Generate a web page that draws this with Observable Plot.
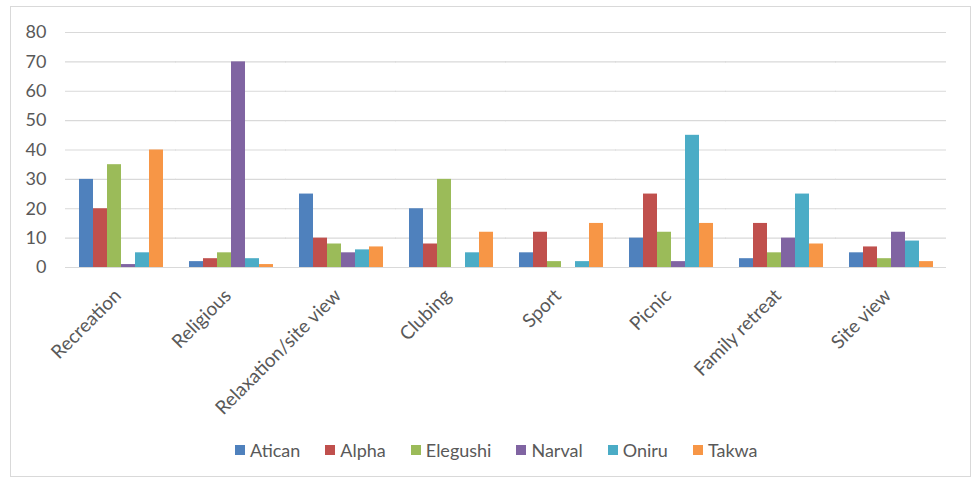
<!DOCTYPE html>
<html>
<head>
<meta charset="utf-8">
<script src="https://cdn.jsdelivr.net/npm/d3@7"></script>
<script src="https://cdn.jsdelivr.net/npm/@observablehq/plot@0.6"></script>
<style>
  body { margin: 0; background: #fff; font-family: Lato, "Open Sans", sans-serif; }
  #frame { position: absolute; left: 10px; top: 6px; width: 961px; height: 471px; border: 1px solid #d9d9d9; box-sizing: border-box; }
  #chart { position: absolute; left: 0; top: 0; }
  #legend { position: absolute; left: 235px; top: 438px; height: 24px; display: flex; align-items: center; gap: 25px; }
</style>
</head>
<body>
<div id="frame"></div>
<div id="chart"></div>
<div id="legend"></div>
<script>
// Purposes of visit
const categories = ["Recreation", "Religious", "Relaxation/site view", "Clubing", "Sport", "Picnic", "Family retreat", "Site view"];
// Sites
const series = ["Atican", "Alpha", "Elegushi", "Narval", "Oniru", "Takwa"];
const colors = ["#4F81BD", "#C0504D", "#9BBB59", "#8064A2", "#4BACC6", "#F79646"];
const yTicks = [0, 10, 20, 30, 40, 50, 60, 70, 80];

// Values per site, in category order
const atican   = [30, 2, 25, 20, 5, 10, 3, 5];
const alpha    = [20, 3, 10, 8, 12, 25, 15, 7];
const elegushi = [35, 5, 8, 30, 2, 12, 5, 3];
const narval   = [1, 70, 5, 0, 0, 2, 10, 12];
const oniru    = [5, 3, 6, 5, 2, 45, 25, 9];
const takwa    = [40, 1, 7, 12, 15, 15, 8, 2];

const values = [atican, alpha, elegushi, narval, oniru, takwa];
const data = [];
categories.forEach((c, i) => {
  series.forEach((s, j) => data.push({category: c, series: s, value: values[j][i]}));
});

const textColor = "#595959";
const gridColor = "#d9d9d9";

const chart = Plot.plot({
  width: 978,
  height: 420,
  marginTop: 32,
  marginBottom: 153,
  marginLeft: 64,
  marginRight: 31,
  style: {fontFamily: "Lato, 'Open Sans', sans-serif", background: "transparent"},
  fx: {domain: categories, paddingInner: 0.21, paddingOuter: 0.105, label: null},
  x: {domain: series, padding: 0, axis: null},
  y: {domain: [0, 80], label: null},
  color: {domain: series, range: colors},
  marks: [
    // gridlines stretched over the gaps between groups so they read as continuous
    Plot.ruleY(yTicks, {stroke: gridColor, strokeWidth: 1.2, insetLeft: -12, insetRight: -12}),
    Plot.barY(data, {fx: "category", x: "series", y: "value", fill: "series", inset: 0}),
    // the y axis sits on the first group's edge, so shift its labels past the outer gap
    Plot.axisY(yTicks, {tickSize: 0, tickPadding: 4, dx: -27, fontSize: 18, fill: textColor, label: null}),
    Plot.axisFx({anchor: "bottom", tickRotate: -45, tickSize: 0, tickPadding: 12, dx: -3, dy: 13, fontSize: 19, fill: textColor, label: null})
  ]
});
document.getElementById("chart").appendChild(chart);

// Legend row built from the same series and colours
const legend = d3.select("#legend");
series.forEach((s, j) => {
  const item = legend.append("div")
    .style("display", "flex").style("align-items", "center")
    .style("font-size", "18px").style("color", textColor);
  item.append("div").style("width", "10px").style("height", "10px")
    .style("background", colors[j]).style("margin-right", "5px");
  item.append("span").text(s);
});
</script>
</body>
</html>
